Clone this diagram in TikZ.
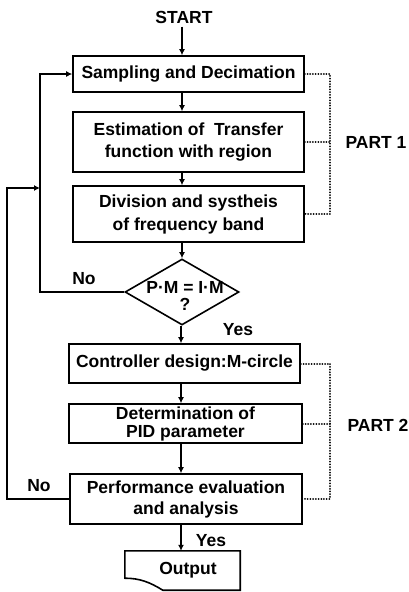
\documentclass[tikz,border=0pt]{standalone}
\usepackage{fontspec}
\setmainfont{Liberation Sans}
\usetikzlibrary{shapes.geometric,arrows.meta,calc}
\begin{document}
\begin{tikzpicture}[x=1pt,y=-1pt,
  txt/.style={font=\bfseries\fontsize{17.5}{21}\selectfont},
  box/.style={txt,draw,line width=1.6pt,align=center,inner sep=0pt},
  arr/.style={line width=1.4pt,-{Latex[length=6pt,width=6pt]}},
  dots/.style={line width=2pt,line cap=round,dash pattern=on 0.01pt off 2.7pt},
  lp/.style={line width=1.5pt}]
\useasboundingbox (0,0) rectangle (408,592);
\coordinate (ax) at (182,0);
\coordinate (bx) at (181,0);
\node[txt] (start) at (184,17) {START};
\node[box,minimum width=231pt,minimum height=36pt] (b1) at (188.5,74) {Sampling and Decimation};
\node[box,minimum width=231pt,minimum height=60pt,font=\bfseries\fontsize{17.5}{22.5}\selectfont] (b2) at (188.5,142) {Estimation of\ \ Transfer\\function with region};
\node[box,minimum width=231pt,minimum height=56pt,font=\bfseries\fontsize{17.5}{23}\selectfont] (b3) at (188.5,214) {Division and systheis\\of frequency band};
\node[diamond,draw,line width=1.6pt,minimum width=114pt,minimum height=66pt,inner sep=0pt] (d) at (182,292) {};
\node[txt,align=center,inner sep=0pt,font=\bfseries\fontsize{17.5}{17}\selectfont] (dt) at (185,296) {P·M = I·M\\?};
\node[box,minimum width=231pt,minimum height=39pt] (b4) at (184.5,363.5) {Controller design:M-circle};
\node[box,minimum width=233pt,minimum height=39pt,font=\bfseries\fontsize{17.5}{18}\selectfont] (b5) at (185.5,423.5) {Determination of\\PID parameter};
\node[box,minimum width=232pt,minimum height=50pt] (b6) at (186,499) {Performance evaluation\\and analysis};
\node[txt,minimum width=115pt,minimum height=39pt,inner sep=0pt] (out) at (182.5,570.5) {\hspace{11pt}\raisebox{-3pt}{Output}};
\draw[line width=1.6pt] (out.north west) -- (out.north east) -- (out.south east)
  -- ($(out.south west)+(38,0)$) .. controls ($(out.south west)+(25,-8)$) and ($(out.south west)+(15,-12)$) .. ($(out.south west)+(0,-12)$) -- cycle;
% arrows
\draw[arr] (start.south -| ax) -- (b1.north -| ax);
\draw[arr] (b1.south -| ax) -- (b2.north -| ax);
\draw[arr] (b2.south -| ax) -- (b3.north -| ax);
\draw[arr] (b3.south -| ax) -- (d.north);
\draw[arr] (d.south -| bx) -- (b4.north -| bx);
\draw[arr] (b4.south -| bx) -- (b5.north -| bx);
\draw[arr] (b5.south -| bx) -- (b6.north -| bx);
\draw[arr] (b6.south -| bx) -- (out.north -| bx);
% loops
\coordinate (j) at (40,188);
\draw[arr,lp] (d.west) -- (40,292) |- (b1.west);
\draw[arr,lp] (b6.west) -- (7,499) |- (j);
% labels
\node[txt] (no1) at (84,279) {No};
\node[txt] (yes1) at (238,330) {Yes};
\node[txt] (no2) at (39,486) {No};
\node[txt] (yes2) at (211,541) {Yes};
% brackets
\draw[dots] (b1.east) -- (330,74) -- (330,214) -- (b3.east);
\draw[dots] (b2.east) -- (330,142);
\draw[dots] (b4.east) -- (330,363.5) -- (330,499) -- (b6.east);
\draw[dots] (b5.east) -- (330,423.5);
\node[txt,anchor=west] (p1) at (342,142) {PART 1};
\node[txt,anchor=west] (p2) at (344,425) {PART 2};
\end{tikzpicture}
\end{document}
